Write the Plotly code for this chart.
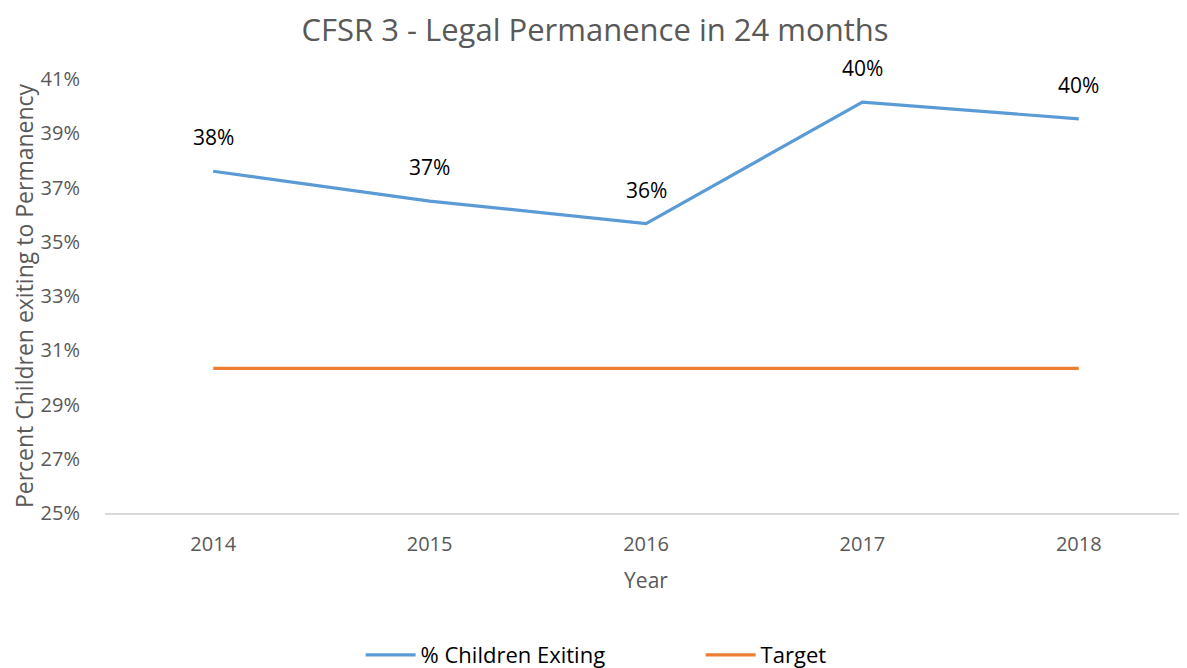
import plotly.graph_objects as go

years = ["2014", "2015", "2016", "2017", "2018"]
pct_exiting = [37.6, 36.5, 35.67, 40.15, 39.53]
target = [30.33, 30.33, 30.33, 30.33, 30.33]
labels = ["38%", "37%", "36%", "40%", "40%"]
y_ticks = [25, 27, 29, 31, 33, 35, 37, 39, 41]
y_tick_text = [f"{v}%" for v in y_ticks]

FONT = "Open Sans"
GREY = "#595959"
W, H = 1179, 668  # page has 8px body offset

fig = go.Figure()
fig.add_trace(go.Scatter(x=years, y=pct_exiting, mode="lines", name="% Children Exiting",
                         line=dict(color="#5B9BD5", width=3.2)))
fig.add_trace(go.Scatter(x=years, y=target, mode="lines", name="Target",
                         line=dict(color="#ED7D31", width=3.2)))

for i, (y, t) in enumerate(zip(pct_exiting, labels)):
    fig.add_annotation(x=i, y=y, text=t, showarrow=False, yshift=34,
                       yanchor="middle", font=dict(family=FONT, size=21, color="black"))

fig.update_layout(
    width=W, height=H,
    paper_bgcolor="white", plot_bgcolor="white",
    margin=dict(l=97, r=0, t=71, b=162),
    title=dict(text="CFSR 3 - Legal Permanence in 24 months", x=(595 - 8) / W, xanchor="center",
               y=1 - (30 - 8) / H, yanchor="middle", font=dict(family=FONT, size=31, color=GREY)),
    font=dict(family=FONT, color=GREY),
    showlegend=True,
    legend=dict(orientation="h", x=(657 - 8) / W, xanchor="center", y=-0.28, yanchor="top",
                font=dict(family=FONT, size=22, color="black"), itemwidth=50,
                entrywidth=275, traceorder="normal"),
)
fig.update_xaxes(type="category", range=[-0.5, 4.5], showgrid=False, showline=True,
                 linecolor="#D9D9D9", linewidth=1.5, ticks="outside", ticklen=12,
                 tickcolor="rgba(0,0,0,0)",
                 tickfont=dict(family=FONT, size=20, color=GREY),
                 title=dict(text="Year", font=dict(family=FONT, size=21, color=GREY), standoff=18))
fig.update_yaxes(range=[25, 41], tickvals=y_ticks, ticktext=y_tick_text, showgrid=False,
                 zeroline=False, showline=False, ticks="outside", ticklen=20,
                 tickcolor="rgba(0,0,0,0)",
                 tickfont=dict(family=FONT, size=20, color=GREY),
                 title=dict(text="Percent Children exiting to Permanency",
                            font=dict(family=FONT, size=23, color=GREY), standoff=2))

fig.write_html("out.html")
